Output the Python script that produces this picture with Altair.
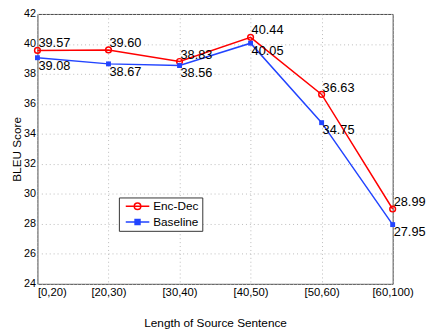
import json
import altair as alt
import pandas as pd

categories = ["[0,20)", "[20,30)", "[30,40)", "[40,50)", "[50,60)", "[60,100)"]
enc_dec = [39.57, 39.60, 38.83, 40.44, 36.63, 28.99]
baseline = [39.08, 38.67, 38.56, 40.05, 34.75, 27.95]
series_names = ["Enc-Dec", "Baseline"]
y_ticks = [24, 26, 28, 30, 32, 34, 36, 38, 40, 42]

RED = "#ff0000"
BLUE = "#2244ff"
FONT = "Liberation Sans"

rows = []
for i, c in enumerate(categories):
    rows.append({"idx": i, "cat": c, "series": "Enc-Dec", "bleu": enc_dec[i]})
    rows.append({"idx": i, "cat": c, "series": "Baseline", "bleu": baseline[i]})
df = pd.DataFrame(rows)

label_expr = json.dumps(categories) + "[datum.value]"

x_enc = alt.X(
    "idx:Q",
    scale=alt.Scale(domain=[0, len(categories) - 1], nice=False, zero=False),
    axis=alt.Axis(
        values=list(range(len(categories))),
        labelExpr=label_expr,
        title="Length of Source Sentence",
        labelAlign={"condition": {"test": "datum.value == 0", "value": "left"}, "value": "center"},
        labelPadding=3,
        labelFontSize=11.5,
        titlePadding=20,
    ),
)
y_enc = alt.Y(
    "bleu:Q",
    scale=alt.Scale(domain=[24, 42], nice=False, zero=False),
    axis=alt.Axis(values=y_ticks, title="BLEU Score", format="d", labelPadding=2, titlePadding=0),
)

base = alt.Chart(df).encode(x=x_enc, y=y_enc)
red = base.transform_filter(alt.datum.series == "Enc-Dec")
blue = base.transform_filter(alt.datum.series == "Baseline")

red_line = red.mark_line(color=RED, strokeWidth=1.5)
blue_line = blue.mark_line(color=BLUE, strokeWidth=1.5)
red_pts = red.mark_point(shape="circle", filled=False, color=RED, size=34, strokeWidth=1.5, opacity=1)
blue_pts = blue.mark_point(shape="square", filled=True, color=BLUE, size=25, opacity=1)
red_txt = red.mark_text(align="left", baseline="alphabetic", dx=1, dy=-3, fontSize=13, font=FONT, color="black").encode(
    text=alt.Text("bleu:Q", format=".2f")
)
blue_txt = blue.mark_text(align="left", baseline="top", dx=1, dy=2, fontSize=13, font=FONT, color="black").encode(
    text=alt.Text("bleu:Q", format=".2f")
)

circle_path = "M-3,0H3M-0.83,0A0.83,0.83,0,1,0,0.83,0A0.83,0.83,0,1,0,-0.83,0Z"
square_path = "M-3,0H3M-0.63,-0.63H0.63V0.63H-0.63Z"

leg = alt.Legend(
    title=None,
    orient="none",
    legendX=83,
    legendY=187,
    padding=3,
    symbolSize=64,
    symbolOffset=10,
    labelOffset=10,
    rowPadding=3,
    labelFontSize=12,
    labelFont=FONT,
    labelColor="black",
    strokeColor="#333333",
    fillColor="white",
    symbolStrokeWidth=1.5,
    symbolOpacity=1,
)

legend_layer = base.mark_point(opacity=0, size=64, strokeWidth=1.5).encode(
    shape=alt.Shape("series:N", scale=alt.Scale(domain=series_names, range=[circle_path, square_path]), legend=leg),
    stroke=alt.Stroke("series:N", scale=alt.Scale(domain=series_names, range=[RED, BLUE]), legend=leg),
    fill=alt.Fill("series:N", scale=alt.Scale(domain=series_names, range=["transparent", BLUE]), legend=leg),
)

chart = (
    alt.layer(red_line, blue_line, red_pts, blue_pts, red_txt, blue_txt, legend_layer)
    .properties(
        width=362,
        height=275,
        padding={"left": 30, "top": 3, "right": 36, "bottom": 45},
        autosize=alt.AutoSizeParams(type="none"),
        background="white",
    )
    .configure_view(stroke="#444444", strokeWidth=1)
    .configure_axis(
        grid=True,
        gridColor="#bbbbbb",
        gridDash=[1, 3],
        gridWidth=1,
        domain=False,
        ticks=False,
        labelFont=FONT,
        labelFontSize=11,
        labelColor="black",
        titleFont=FONT,
        titleFontSize=12,
        titleFontWeight="normal",
        titleColor="black",
    )
)

chart.save("out.html", embed_options={"renderer": "svg", "actions": False})
